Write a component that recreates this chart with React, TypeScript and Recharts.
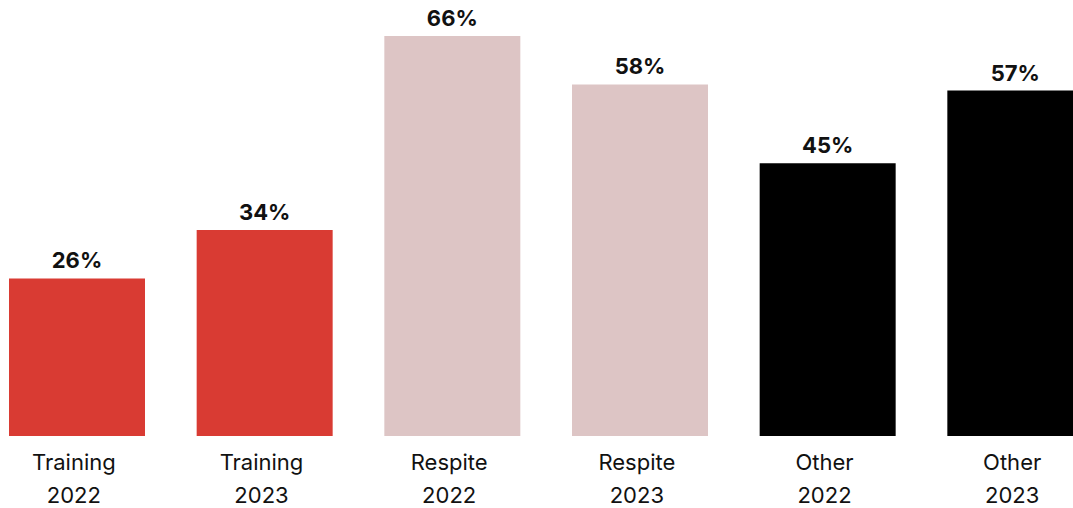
import React from 'react';
import { BarChart, Bar, XAxis, YAxis, Cell, LabelList } from 'recharts';

const categories = ['Training', 'Training', 'Respite', 'Respite', 'Other', 'Other'];
const years = ['2022', '2023', '2022', '2023', '2022', '2023'];
const shares = [26, 34, 66, 58, 45, 57];
const barColors = ['#d93b33', '#d93b33', '#ddc5c5', '#ddc5c5', '#000000', '#000000'];

const data = categories.map((name, i) => ({
  key: `${name} ${years[i]}`,
  name,
  year: years[i],
  share: shares[i],
}));

const FONT = 'Inter, "Noto Sans", sans-serif';

const TwoLineTick = ({ x, y, payload }: any) => {
  const row = data.find((d) => d.key === payload.value);
  return (
    <g transform={`translate(${x - 3},${y})`}>
      <text textAnchor="middle" fontFamily={FONT} fontSize={22} fill="#111">
        <tspan x={0} dy={26}>{row?.name}</tspan>
        <tspan x={0} dy={33}>{row?.year}</tspan>
      </text>
    </g>
  );
};

const App: React.FC = () => {
  return (
    <div style={{ position: 'absolute', left: 0, top: 0, width: 1073, height: 508, overflow: 'hidden', background: '#fff' }}>
      <div style={{ position: 'absolute', left: -17, top: 0 }}>
        <BarChart
          width={1126}
          height={508}
          data={data}
          margin={{ top: 36, right: 0, left: 0, bottom: 0 }}
        >
          <XAxis
            dataKey="key"
            axisLine={false}
            tickLine={false}
            height={72}
            interval={0}
            tick={<TwoLineTick />}
          />
          <YAxis hide domain={[0, 66]} />
          <Bar dataKey="share" barSize={136} isAnimationActive={false}>
            {data.map((d, i) => (
              <Cell key={d.key} fill={barColors[i]} />
            ))}
            <LabelList
              dataKey="share"
              position="top"
              offset={10}
              formatter={(v: any) => `${v}%`}
              style={{ fontFamily: FONT, fontSize: 22, fontWeight: 700, fill: '#111' }}
            />
          </Bar>
        </BarChart>
      </div>
    </div>
  );
};

export default App;
